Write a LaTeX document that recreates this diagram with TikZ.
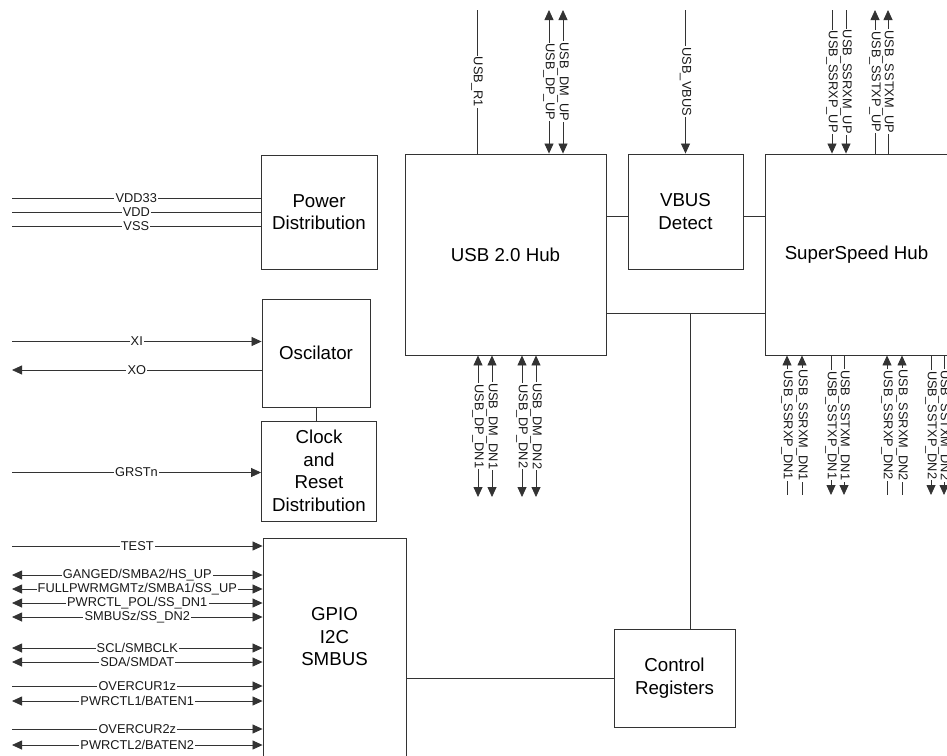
\documentclass[tikz,border=0pt]{standalone}
\usepackage{fontspec}
\setmainfont{Liberation Sans}
\usetikzlibrary{arrows.meta}
\begin{document}
\begin{tikzpicture}[x=1pt,y=-1pt,
  box/.style={draw=black!80, line width=0.9pt, rectangle, align=center,
    font=\fontsize{18.7}{22.5}\selectfont, inner sep=0pt},
  boxtext/.style={align=center, font=\fontsize{18.7}{22.5}\selectfont, inner sep=0pt},
  sig/.style={draw=black!80, line width=0.8pt},
  lbl/.style={fill=white, inner sep=1.2pt, font=\fontsize{12.8}{14}\selectfont, text=black!90},
  vlbl/.style={lbl, rotate=-90},
  >={Triangle[length=10pt,width=9pt]}
]
\useasboundingbox (0,0) rectangle (947,755);

% blocks
\node[box, minimum width=116pt, minimum height=114pt] (pd) at (319,212) {Power\\Distribution};
\node[box, minimum width=201pt, minimum height=201pt] (usb2) at (505.5,254.5) {USB 2.0 Hub};
\node[box, minimum width=115pt, minimum height=115pt] (vbus) at (685.5,211.5) {VBUS\\Detect};
\node[box, minimum width=183pt, minimum height=201pt] (ss) at (856.5,254.5) {SuperSpeed Hub};
\node[box, minimum width=108pt, minimum height=108pt] (osc) at (316,353) {Oscilator};
\node[box, minimum width=115pt, minimum height=100pt] (clk) at (319,471) {Clock\\and\\Reset\\Distribution};
\node[box, minimum width=143pt, minimum height=222pt] (gpio) at (334.5,649) {};
\node[boxtext] (gpiot) at (334.5,637) {GPIO\\I2C\\SMBUS};
\node[box, minimum width=121pt, minimum height=98pt] (ctrl) at (674.5,678) {Control\\Registers};

% internal connectors
\coordinate (b1) at (0,216);
\draw[sig] (usb2.east |- b1) -- (vbus.west |- b1);
\draw[sig] (vbus.east |- b1) -- (ss.west |- b1);
\coordinate (b2) at (690,313);
\draw[sig] (usb2.east |- b2) -- (ss.west |- b2);
\draw[sig] (b2) -- (b2 |- ctrl.north);
\draw[sig] (osc.south) -- (osc.south |- clk.north);
\draw[sig] (gpio.east |- ctrl.west) -- (ctrl.west);

% left signals
\coordinate (vdd33) at (12,198);
\coordinate (vdd) at (12,212);
\coordinate (vss) at (12,226);
\draw[sig] (vdd33) -- (vdd33 -| pd.west) node[lbl,midway]{VDD33};
\draw[sig] (vdd) -- (vdd -| pd.west) node[lbl,midway]{VDD};
\draw[sig] (vss) -- (vss -| pd.west) node[lbl,midway]{VSS};

\coordinate (xi) at (12,341.5);
\coordinate (xo) at (12,370);
\draw[sig,->] (xi) -- (xi -| osc.west) node[lbl,midway]{XI};
\draw[sig,<-] (xo) -- (xo -| osc.west) node[lbl,midway]{XO};

\coordinate (grst) at (12,472.5);
\draw[sig,->] (grst) -- (grst -| clk.west) node[lbl,midway]{GRSTn};

\coordinate (test) at (12,546);
\draw[sig,->] (test) -- (test -| gpio.west) node[lbl,midway]{TEST};

\coordinate (g1) at (12,575);
\coordinate (g2) at (12,589);
\coordinate (g3) at (12,603);
\coordinate (g4) at (12,617);
\coordinate (g5) at (12,648);
\coordinate (g6) at (12,662);
\coordinate (g7) at (12,686);
\coordinate (g8) at (12,701);
\coordinate (g9) at (12,729);
\coordinate (g10) at (12,745);
\draw[sig,<->] (g1) -- (g1 -| gpio.west) node[lbl,midway]{GANGED/SMBA2/HS\_UP};
\draw[sig,<->] (g2) -- (g2 -| gpio.west) node[lbl,midway]{FULLPWRMGMTz/SMBA1/SS\_UP};
\draw[sig,<->] (g3) -- (g3 -| gpio.west) node[lbl,midway]{PWRCTL\_POL/SS\_DN1};
\draw[sig,<->] (g4) -- (g4 -| gpio.west) node[lbl,midway]{SMBUSz/SS\_DN2};
\draw[sig,<->] (g5) -- (g5 -| gpio.west) node[lbl,midway]{SCL/SMBCLK~};
\draw[sig,<->] (g6) -- (g6 -| gpio.west) node[lbl,midway]{SDA/SMDAT~};
\draw[sig,->] (g7) -- (g7 -| gpio.west) node[lbl,midway]{OVERCUR1z};
\draw[sig,<->] (g8) -- (g8 -| gpio.west) node[lbl,midway]{PWRCTL1/BATEN1};
\draw[sig,->] (g9) -- (g9 -| gpio.west) node[lbl,midway]{OVERCUR2z};
\draw[sig,<->] (g10) -- (g10 -| gpio.west) node[lbl,midway]{PWRCTL2/BATEN2};

% top signals
\coordinate (t1) at (477,10);
\coordinate (t2) at (549,10);
\coordinate (t3) at (563,10);
\coordinate (t4) at (685.5,10);
\coordinate (t5) at (832,10);
\coordinate (t6) at (846,10);
\coordinate (t7) at (875,10);
\coordinate (t8) at (888,10);
\draw[sig] (t1) -- (t1 |- usb2.north) node[vlbl,midway]{USB\_R1};
\draw[sig,<->] (t2) -- (t2 |- usb2.north) node[vlbl,midway]{USB\_DP\_UP};
\draw[sig,<->] (t3) -- (t3 |- usb2.north) node[vlbl,midway]{USB\_DM\_UP};
\draw[sig,->] (t4) -- (t4 |- vbus.north) node[vlbl,midway]{USB\_VBUS};
\draw[sig,->] (t5) -- (t5 |- ss.north) node[vlbl,midway]{USB\_SSRXP\_UP};
\draw[sig,->] (t6) -- (t6 |- ss.north) node[vlbl,midway]{USB\_SSRXM\_UP};
\draw[sig,<-] (t7) -- (t7 |- ss.north) node[vlbl,midway]{USB\_SSTXP\_UP};
\draw[sig,<-] (t8) -- (t8 |- ss.north) node[vlbl,midway]{USB\_SSTXM\_UP};

% bottom signals, USB 2.0 hub
\coordinate (d1) at (478,497);
\coordinate (d2) at (492,497);
\coordinate (d3) at (522,497);
\coordinate (d4) at (536,497);
\draw[sig,<->] (d1 |- usb2.south) -- (d1) node[vlbl,midway]{USB\_DP\_DN1};
\draw[sig,<->] (d2 |- usb2.south) -- (d2) node[vlbl,midway]{USB\_DM\_DN1};
\draw[sig,<->] (d3 |- usb2.south) -- (d3) node[vlbl,midway]{USB\_DP\_DN2};
\draw[sig,<->] (d4 |- usb2.south) -- (d4) node[vlbl,midway]{USB\_DM\_DN2};

% bottom signals, SuperSpeed hub
\coordinate (s1) at (787,495);
\coordinate (s2) at (802,495);
\coordinate (s3) at (831,495);
\coordinate (s4) at (844,495);
\coordinate (s5) at (887,495);
\coordinate (s6) at (902,495);
\coordinate (s7) at (931,495);
\coordinate (s8) at (944,495);
\draw[sig,<-] (s1 |- ss.south) -- (s1) node[vlbl,midway]{USB\_SSRXP\_DN1};
\draw[sig,<-] (s2 |- ss.south) -- (s2) node[vlbl,midway]{USB\_SSRXM\_DN1};
\draw[sig,->] (s3 |- ss.south) -- (s3) node[vlbl,midway]{USB\_SSTXP\_DN1};
\draw[sig,->] (s4 |- ss.south) -- (s4) node[vlbl,midway]{USB\_SSTXM\_DN1};
\draw[sig,<-] (s5 |- ss.south) -- (s5) node[vlbl,midway]{USB\_SSRXP\_DN2};
\draw[sig,<-] (s6 |- ss.south) -- (s6) node[vlbl,midway]{USB\_SSRXM\_DN2};
\draw[sig,->] (s7 |- ss.south) -- (s7) node[vlbl,midway]{USB\_SSTXP\_DN2};
\draw[sig,->] (s8 |- ss.south) -- (s8) node[vlbl,midway]{USB\_SSTXM\_DN2};
\end{tikzpicture}
\end{document}
